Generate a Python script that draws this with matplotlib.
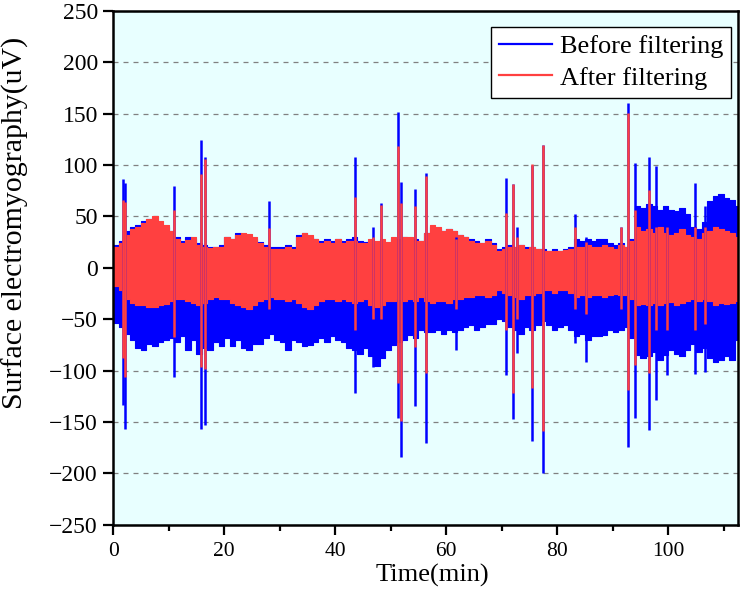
import matplotlib
matplotlib.use("Agg")
import matplotlib.pyplot as plt
import numpy as np
from matplotlib.lines import Line2D
from matplotlib.ticker import MultipleLocator

plt.rcParams["font.family"] = ["Liberation Serif", "DejaVu Serif"]

# per-minute envelope of the EMG trace (uV)
minutes = np.arange(113)
before_upper = [
    22, 26, 36, 40, 42, 46, 48, 46, 42, 40,
    36, 30, 26, 30, 28, 24, 22, 20, 20, 22,
    30, 28, 34, 32, 30, 28, 25, 22, 20, 20,
    20, 22, 20, 32, 34, 30, 28, 26, 28, 26,
    28, 26, 28, 30, 26, 25, 26, 24, 25, 24,
    28, 28, 30, 26, 28, 26, 34, 40, 38, 36,
    38, 36, 32, 30, 28, 26, 24, 28, 24, 18,
    20, 22, 20, 22, 20, 20, 18, 18, 16, 18,
    16, 18, 20, 28, 26, 28, 26, 28, 28, 24,
    22, 24, 20, 28, 60, 58, 62, 60, 56, 60,
    56, 55, 58, 52, 40, 38, 45, 65, 70, 72,
    68, 66, 60,
]
before_lower = [
    -54, -58, -64, -70, -78, -80, -74, -76, -72, -70,
    -68, -72, -66, -80, -70, -84, -78, -80, -72, -76,
    -68, -76, -70, -78, -80, -74, -74, -68, -64, -70,
    -72, -80, -70, -72, -76, -75, -72, -68, -72, -66,
    -70, -72, -78, -80, -84, -78, -86, -95, -88, -80,
    -75, -72, -70, -65, -68, -60, -62, -62, -60, -64,
    -60, -62, -60, -58, -56, -60, -58, -55, -55, -50,
    -52, -58, -60, -64, -58, -60, -56, -52, -56, -60,
    -58, -56, -60, -66, -64, -70, -66, -66, -65, -60,
    -62, -60, -58, -68, -85, -88, -86, -82, -90, -85,
    -80, -84, -86, -80, -74, -82, -78, -88, -92, -90,
    -86, -90, -70,
]
after_upper = [
    20, 24, 32, 38, 40, 44, 48, 50, 46, 42,
    36, 28, 24, 27, 30, 22, 20, 19, 20, 20,
    30, 28, 32, 34, 33, 30, 24, 20, 18, 18,
    18, 20, 18, 30, 34, 32, 28, 24, 26, 24,
    28, 24, 26, 26, 24, 24, 28, 26, 28, 25,
    30, 28, 30, 30, 26, 26, 34, 42, 40, 36,
    38, 36, 32, 30, 26, 24, 24, 26, 22, 16,
    18, 20, 20, 22, 18, 20, 18, 16, 16, 16,
    16, 17, 18, 20, 20, 22, 20, 20, 22, 20,
    18, 22, 20, 26, 40, 36, 38, 34, 40, 34,
    32, 34, 38, 32, 30, 28, 34, 36, 40, 38,
    36, 34, 30,
]
after_lower = [
    -18, -22, -30, -34, -36, -36, -38, -38, -36, -35,
    -32, -30, -30, -32, -34, -36, -34, -30, -28, -30,
    -30, -34, -36, -38, -40, -36, -32, -30, -28, -30,
    -30, -32, -30, -34, -38, -40, -36, -32, -30, -30,
    -32, -30, -32, -34, -32, -30, -36, -38, -36, -32,
    -32, -30, -32, -30, -32, -28, -32, -34, -32, -32,
    -34, -30, -30, -28, -28, -26, -26, -28, -26, -22,
    -24, -26, -28, -30, -26, -26, -24, -22, -22, -24,
    -22, -22, -24, -28, -26, -28, -26, -26, -28, -26,
    -25, -26, -26, -30, -36, -35, -36, -34, -36, -34,
    -33, -36, -34, -32, -30, -32, -30, -32, -36, -34,
    -35, -34, -32,
]

# isolated spikes: time (min), peak/trough before and after filtering
spike_t = [1.7, 2.2, 10.9, 15.8, 16.5, 28.0, 43.5, 46.8, 48.3, 51.4,
           51.9, 54.4, 56.4, 61.7, 70.8, 72.1, 72.7, 75.4, 77.5, 83.2,
           85.2, 91.5, 92.7, 94.0, 96.5, 97.8, 99.7, 104.8, 106.7]
spike_before_hi = [86, 83, 80, 124, 108, 65, 108, 40, 63, 152,
                   84, 77, 92, 30, 87, 82, 40, 100, 120, 52,
                   30, 40, 160, 102, 108, 99, 60, 83, 60]
spike_after_hi = [66, 64, 56, 91, 106, 39, 69, 30, 61, 119,
                  63, 60, 89, 28, 53, 82, 30, 101, 120, 40,
                  25, 40, 151, 56, 76, 40, 40, 40, 40]
spike_before_lo = [-133, -157, -106, -157, -153, -60, -122, -96, -88, -146,
                   -184, -134, -170, -80, -104, -147, -83, -168, -200, -73,
                   -92, -60, -174, -146, -158, -129, -104, -103, -101]
spike_after_lo = [-88, -106, -67, -96, -98, -40, -60, -50, -50, -112,
                  -149, -77, -102, -40, -60, -122, -50, -117, -159, -40,
                  -45, -40, -119, -94, -102, -60, -60, -60, -55]

blue = "#0000FF"
red = "#FF4040"
t_end = 112.6

fig = plt.figure(figsize=(7.54, 6.04), dpi=100)
ax = fig.add_axes([0.150, 0.131, 0.829, 0.851])
ax.set_facecolor("#E8FFFF")

x = np.append(minutes, t_end).astype(float)


def band(values):
    return np.append(values, values[-1])


ax.fill_between(x, band(before_lower), band(before_upper), step="post",
                color=blue, lw=0.8)
ax.vlines(spike_t, spike_before_lo, spike_before_hi, color=blue, lw=1.8)
ax.fill_between(x, band(after_lower), band(after_upper), step="post",
                color=red, lw=0.8)
ax.vlines(spike_t, spike_after_lo, spike_after_hi, color=red, lw=1.8)

ax.set_xlim(0, t_end)
ax.set_ylim(-250, 250)
ax.xaxis.set_major_locator(MultipleLocator(20))
ax.xaxis.set_minor_locator(MultipleLocator(10))
ax.yaxis.set_major_locator(MultipleLocator(50))
ax.yaxis.grid(True, linestyle=(0, (4, 4)), color="#808080", lw=0.9)
ax.set_axisbelow(True)

ax.tick_params(axis="x", which="major", direction="out", length=7, width=1.6,
               labelsize=15.5, pad=5)
ax.tick_params(axis="x", which="minor", direction="out", length=4, width=1.6)
ax.tick_params(axis="y", which="major", direction="out", length=7, width=1.6,
               labelsize=17, pad=4)
for side in ["left", "bottom", "top", "right"]:
    ax.spines[side].set_linewidth(1.8)

ax.set_xlabel("Time(min)", fontsize=19, labelpad=4)
ax.xaxis.set_label_coords(0.51, -0.075)
ax.set_ylabel("Surface electromyography(uV)", fontsize=21.5, labelpad=2)
ax.yaxis.set_label_coords(-0.134, 0.588)

handles = [Line2D([], [], color=blue, lw=1.6), Line2D([], [], color=red, lw=1.6)]
leg = ax.legend(handles, ["Before filtering", "After filtering"], loc="upper right",
                bbox_to_anchor=(0.989, 0.969), borderaxespad=0, fontsize=19,
                fancybox=False, framealpha=1, edgecolor="black", handlelength=2.0,
                handletextpad=0.3, borderpad=0.3, labelspacing=0.3)
leg.get_frame().set_linewidth(1.0)

fig.savefig("out.png", dpi=100)
